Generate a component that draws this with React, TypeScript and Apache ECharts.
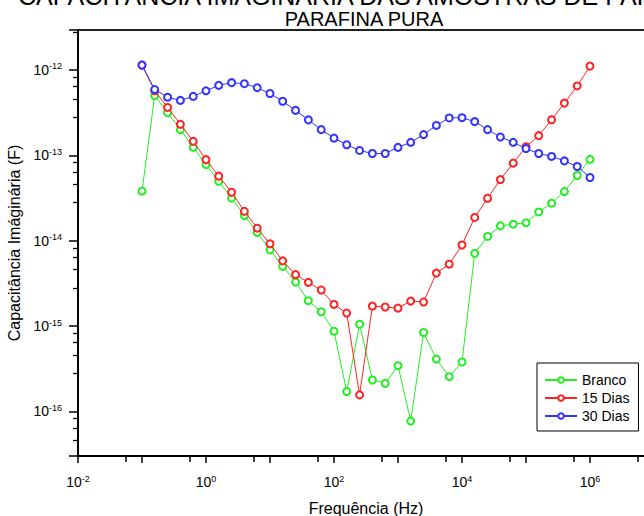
import React, { useEffect, useRef } from "react";
import * as echarts from "echarts";

// Frequência (Hz)
const freq = [
  0.1, 0.158, 0.251, 0.398, 0.631, 1, 1.58, 2.51, 3.98, 6.31,
  10, 15.8, 25.1, 39.8, 63.1, 100, 158, 251, 398, 631,
  1000, 1580, 2510, 3980, 6310, 10000, 15800, 25100, 39800, 63100,
  100000, 158000, 251000, 398000, 631000, 1000000,
];

const branco = [
  3.8e-14, 5.0e-13, 3.16e-13, 2.0e-13, 1.24e-13, 7.8e-14, 4.96e-14, 3.16e-14, 1.97e-14, 1.25e-14,
  7.8e-15, 5.0e-15, 3.27e-15, 1.98e-15, 1.47e-15, 8.7e-16, 1.71e-16, 1.05e-15, 2.33e-16, 2.13e-16,
  3.43e-16, 7.7e-17, 8.4e-16, 4.1e-16, 2.55e-16, 3.79e-16, 7.1e-15, 1.12e-14, 1.49e-14, 1.56e-14,
  1.62e-14, 2.17e-14, 2.75e-14, 3.76e-14, 5.8e-14, 8.98e-14,
];

const dias15 = [
  1.14e-12, 5.7e-13, 3.64e-13, 2.31e-13, 1.46e-13, 8.9e-14, 5.7e-14, 3.69e-14, 2.21e-14, 1.4e-14,
  9.2e-15, 5.8e-15, 4.0e-15, 3.25e-15, 2.64e-15, 1.79e-15, 1.42e-15, 1.56e-16, 1.71e-15, 1.67e-15,
  1.62e-15, 1.96e-15, 1.91e-15, 4.17e-15, 5.3e-15, 8.9e-15, 1.87e-14, 3.14e-14, 5.2e-14, 8.1e-14,
  1.26e-13, 1.7e-13, 2.61e-13, 4.09e-13, 6.5e-13, 1.11e-12,
];

const dias30 = [
  1.14e-12, 5.9e-13, 4.8e-13, 4.4e-13, 4.9e-13, 5.7e-13, 6.6e-13, 7.1e-13, 6.9e-13, 6.2e-13,
  5.3e-13, 4.3e-13, 3.36e-13, 2.6e-13, 2.0e-13, 1.59e-13, 1.33e-13, 1.14e-13, 1.05e-13, 1.05e-13,
  1.24e-13, 1.42e-13, 1.75e-13, 2.24e-13, 2.74e-13, 2.76e-13, 2.48e-13, 2.0e-13, 1.64e-13, 1.42e-13,
  1.2e-13, 1.05e-13, 9.7e-14, 8.6e-14, 7.4e-14, 5.5e-14,
];

const seriesNames = ["Branco", "15 Dias", "30 Dias"];
const seriesColors = ["#22ee22", "#ff2222", "#3333ff"];

const titleLine1 = "CAPACITÂNCIA IMAGINÁRIA DAS AMOSTRAS DE PARAFINA";
const titleLine2 = "PARAFINA PURA";
const xName = "Frequência (Hz)";
const yName = "Capacitância Imáginária (F)";

const X_MIN = 1e-2;
const X_MAX = 1e7;
const Y_MIN = 3e-17;
const Y_MAX = 2.94e-12;
const xLabelExps = [-2, 0, 2, 4, 6];

const FONT = '"Liberation Sans", Arial, Helvetica, sans-serif';

function supLabel(v: number, allowed?: number[]) {
  const l = Math.log10(v);
  const e = Math.round(l);
  if (Math.abs(l - e) > 1e-6) return "";
  if (allowed && allowed.indexOf(e) < 0) return "";
  return `{b|10}{s|${e}}`;
}

const labelRich = {
  b: { fontSize: 14, fontFamily: FONT, color: "#000", lineHeight: 16 },
  s: { fontSize: 9, fontFamily: FONT, color: "#000", lineHeight: 9, verticalAlign: "top" },
};

export default function App() {
  const ref = useRef<HTMLDivElement>(null);

  useEffect(() => {
    if (!ref.current) return;
    const chart = echarts.init(ref.current, undefined, { renderer: "svg" });
    const datasets = [branco, dias15, dias30];

    const lineSeries = seriesNames.map((name, k) => ({
      name,
      type: "line",
      data: freq.map((f, i) => [f, datasets[k][i]]),
      symbol: "emptyCircle",
      symbolSize: 7,
      showSymbol: true,
      lineStyle: { color: seriesColors[k], width: 1 },
      itemStyle: { color: seriesColors[k], borderColor: seriesColors[k], borderWidth: 1 },
      emphasis: { disabled: true },
      z: 3 + k,
    }));

    chart.setOption({
      animation: false,
      backgroundColor: "#fff",
      textStyle: { fontFamily: FONT },
      graphic: [
        {
          type: "text",
          x: 18,
          y: -4,
          style: {
            text: titleLine1,
            font: `25px ${FONT}`,
            fill: "#000",
            verticalAlign: "middle",
            align: "left",
          },
        },
        {
          type: "text",
          x: 364,
          y: 19,
          style: {
            text: titleLine2,
            font: `20px ${FONT}`,
            fill: "#000",
            verticalAlign: "middle",
            align: "center",
          },
        },
      ],
      grid: {
        left: 78,
        top: 30,
        right: -10,
        bottom: 60,
        outerBoundsMode: "none",
        containLabel: false,
        show: true,
        borderColor: "#222",
        borderWidth: 2,
        backgroundColor: "transparent",
      },
      legend: {
        data: seriesNames,
        orient: "vertical",
        left: 537,
        top: 363,
        padding: [10, 9, 8, 7],
        itemGap: 4,
        itemWidth: 32,
        itemHeight: 7,
        itemTextGap: 5,
        borderColor: "#000",
        borderWidth: 1,
        backgroundColor: "#fff",
        textStyle: { fontSize: 14, color: "#000", fontFamily: FONT },
        selectedMode: false,
      },
      xAxis: {
        type: "log",
        logBase: 10,
        min: X_MIN,
        max: X_MAX,
        name: xName,
        nameLocation: "middle",
        nameGap: 44,
        nameTextStyle: { fontSize: 16, color: "#000", fontFamily: FONT },
        axisLine: { show: true, onZero: false, lineStyle: { color: "#000", width: 2 } },
        axisTick: { show: true, inside: false, length: 7, lineStyle: { color: "#000", width: 1.5 } },
        minorTick: { show: true, splitNumber: 2, length: 6, lineStyle: { color: "#000", width: 1.5 } },
        splitLine: { show: false },
        minorSplitLine: { show: false },
        axisLabel: {
          margin: 18,
          formatter: (v: number) => supLabel(v, xLabelExps),
          rich: labelRich,
        },
      },
      yAxis: {
        type: "log",
        logBase: 10,
        min: Y_MIN,
        max: Y_MAX,
        name: yName,
        nameLocation: "middle",
        nameGap: 50,
        nameTextStyle: { fontSize: 16, color: "#000", fontFamily: FONT },
        axisLine: { show: true, onZero: false, lineStyle: { color: "#000", width: 2 } },
        axisTick: { show: true, inside: false, length: 9, lineStyle: { color: "#000", width: 1.5 } },
        minorTick: { show: true, splitNumber: 5, length: 5, lineStyle: { color: "#000", width: 1.3 } },
        splitLine: { show: false },
        minorSplitLine: { show: false },
        axisLabel: {
          margin: 16,
          formatter: (v: number) => supLabel(v),
          rich: labelRich,
        },
      },
      series: lineSeries,
    });

    return () => chart.dispose();
  }, []);

  return (
    <div
      ref={ref}
      style={{ position: "absolute", left: 0, top: 0, width: 644, height: 516 }}
    />
  );
}
